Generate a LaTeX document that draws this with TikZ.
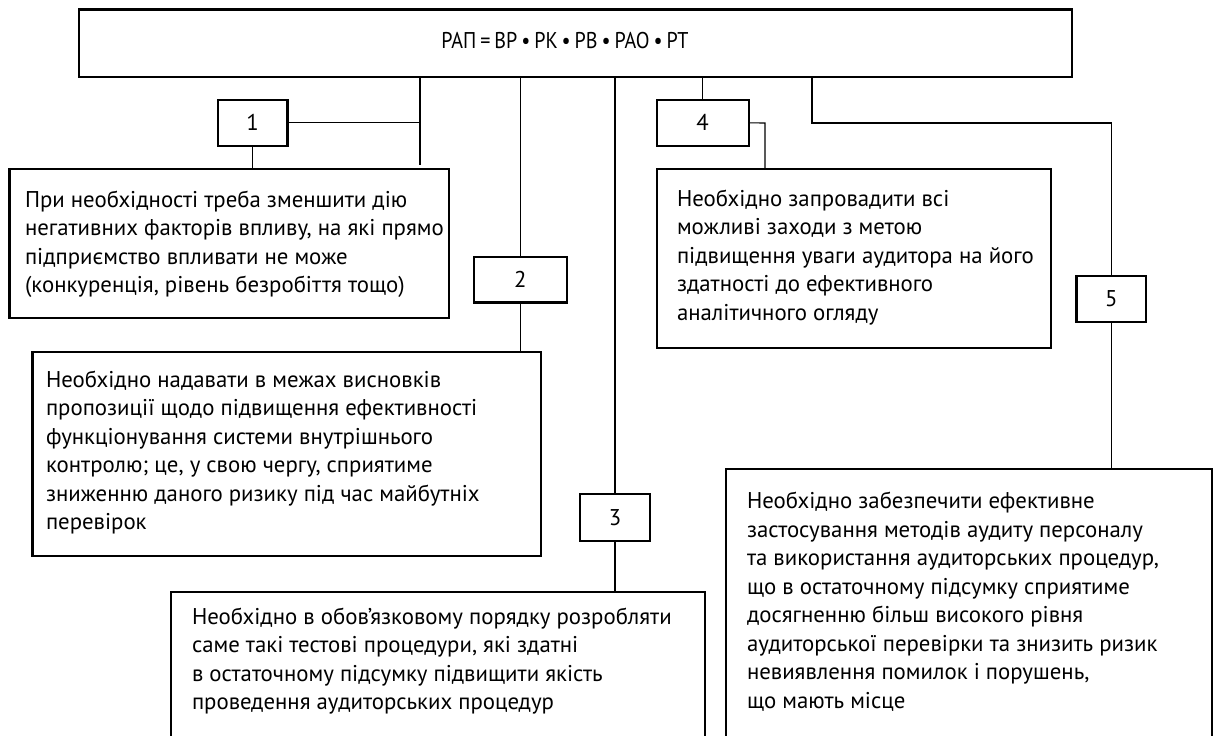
\documentclass[tikz,border=0pt]{standalone}
\usepackage{fontspec}
\setmainfont{PT Sans}
\newfontfamily\diagfont{PT Sans}
\tikzset{
  frame/.style={draw=black, line width=2.4pt, inner sep=0pt, outer sep=0pt, anchor=north west},
  numtxt/.style={inner sep=0pt, font=\diagfont\fontsize{22.8}{26}\selectfont},
  txt/.style={inner sep=0pt, outer sep=0pt, anchor=west, align=left, font=\diagfont\fontsize{22.8}{28.5}\selectfont},
  link/.style={draw=black, line width=1.1pt}
}
\begin{document}
\begin{tikzpicture}[x=1pt,y=-1pt]
\clip (0,0) rectangle (1216,736);
\fill[white] (0,0) rectangle (1216,736);
% top box
\node[frame, minimum width=993pt, minimum height=67.4pt] (top) at (79,9.3) {};
\node[txt, anchor=center] (toptxt) at (565,41) {\scalebox{0.88}[1]{\spaceskip=4.5pt plus 1pt\relax РАП = ВР • РК • РВ • РАО • РТ}};
% number boxes
\node[frame, minimum width=69.6pt, minimum height=45.7pt] (b1) at (217.7,100) {};
\node[numtxt] (n1) at (b1.center) {1};
\node[frame, minimum width=92.7pt, minimum height=45.6pt] (b2) at (474,256.7) {};
\node[numtxt] (n2) at (b2.center) {2};
\node[frame, minimum width=70pt, minimum height=46.7pt] (b3) at (580,494) {};
\node[numtxt] (n3) at (b3.center) {3};
\node[frame, minimum width=92pt, minimum height=45.7pt] (b4) at (656.7,100) {};
\node[numtxt] (n4) at (b4.center) {4};
\node[frame, minimum width=69.4pt, minimum height=46pt] (b5) at (1076.6,276) {};
\node[numtxt] (n5) at (b5.center) {5};
% text boxes
\node[frame, minimum width=439.7pt, minimum height=149pt] (A) at (9.3,169) {};
\node[txt] (At) at (25,244.4) {При необхідності треба зменшити дію\\негативних факторів впливу, на які прямо\\підприємство впливати не може\\(конкуренція, рівень безробіття тощо)};
\node[frame, minimum width=508.5pt, minimum height=204pt] (B) at (32.5,352) {};
\node[txt] (Bt) at (46,452.7) {Необхідно надавати в межах висновків\\пропозиції щодо підвищення ефективності\\функціонування системи внутрішнього\\контролю; це, у свою чергу, сприятиме\\зниженню даного ризику під час майбутніх\\перевірок};
\node[frame, minimum width=534pt, minimum height=160pt] (C) at (171,592) {};
\node[txt] (Ct) at (192,661) {Необхідно в обов’язковому порядку розробляти\\саме такі тестові процедури, які здатні\\в остаточному підсумку підвищити якість\\проведення аудиторських процедур};
\node[frame, minimum width=394pt, minimum height=179pt] (D) at (656.7,169) {};
\node[txt] (Dt) at (677,257.5) {Необхідно запровадити всі\\можливі заходи з метою\\підвищення уваги аудитора на його\\здатності до ефективного\\аналітичного огляду};
\node[frame, minimum width=486pt, minimum height=290pt] (E) at (726,469) {};
\node[txt] (Et) at (747,601.7) {Необхідно забезпечити ефективне\\застосування методів аудиту персоналу\\та використання аудиторських процедур,\\що в остаточному підсумку сприятиме\\досягненню більш високого рівня\\аудиторської перевірки та знизить ризик\\невиявлення помилок і порушень,\\що мають місце};
% connectors
\coordinate (j1) at (420,165);
\coordinate (j4) at (765,123);
\coordinate (j5a) at (812,123);
\draw[link] (top.south -| j1) -- (j1);
\draw[link] (b1.east) -- (b1.east -| j1);
\draw[link] (b1.south) -- (b1.south |- A.north);
\draw[link] (top.south -| b2.north) -- (b2.north);
\draw[link] (b2.south) -- (b2.south |- B.north);
\draw[link] (top.south -| b3.north) -- (b3.north);
\draw[link] (b3.south) -- (b3.south |- C.north);
\draw[link] (top.south -| b4.north) -- (b4.north);
\draw[link] (b4.east) -- (j4) -- (j4 |- D.north);
\draw[link] (top.south -| j5a) -- (j5a) -- (j5a -| b5.north) -- (b5.north);
\draw[link] (b5.south) -- (b5.south |- E.north);
\end{tikzpicture}
\end{document}
